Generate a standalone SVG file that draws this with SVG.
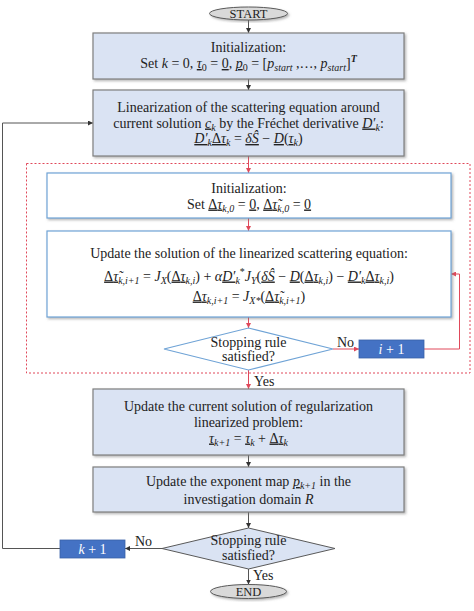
<svg xmlns="http://www.w3.org/2000/svg" width="474" height="611" viewBox="0 0 474 611">
<style>
.t{font-family:"Liberation Serif","Times New Roman",serif;font-size:14px;fill:#222;text-anchor:middle}
.i{font-style:italic}
.u{text-decoration:underline}
.s{font-size:10px;baseline-shift:-3px}
.p{font-size:10px;baseline-shift:6px}
.box{fill:#dae3f3;stroke:#7f7f7f;stroke-width:1.2}
.wbox{fill:#ffffff;stroke:#6fa3d6;stroke-width:1.2}
.blk{fill:#4472c4;stroke:#3a62a8;stroke-width:0.8}
.term{fill:#d9d9d9;stroke:#595959;stroke-width:1}
.cb{fill:none;stroke:#555;stroke-width:1}
.cr{fill:none;stroke:#e0485a;stroke-width:1}
.lbl{font-family:"Liberation Serif","Times New Roman",serif;font-size:14px;fill:#222}
.wt{font-family:"Liberation Serif","Times New Roman",serif;font-size:14px;fill:#fff;text-anchor:middle}
</style>
<defs>
<marker id="ab" viewBox="0 0 6 6" refX="6" refY="3" markerWidth="5" markerHeight="5" orient="auto" markerUnits="userSpaceOnUse"><path d="M0,0 L6,3 L0,6 z" fill="#333"/></marker>
<marker id="ar" viewBox="0 0 6 6" refX="6" refY="3" markerWidth="5" markerHeight="5" orient="auto" markerUnits="userSpaceOnUse"><path d="M0,0 L6,3 L0,6 z" fill="#e0485a"/></marker>
<filter id="sh" x="-5%" y="-10%" width="112%" height="130%"><feDropShadow dx="1.5" dy="1.5" stdDeviation="1" flood-color="#777" flood-opacity="0.55"/></filter>
</defs>
<rect width="474" height="611" fill="#fff"/>

<g id="loop-frame">
<rect x="26.5" y="163.5" width="443.5" height="209.5" fill="none" stroke="#e0485a" stroke-width="1" stroke-dasharray="2,2"/>
</g>

<g id="connectors">
<path class="cb" d="M248.5,20 V33" marker-end="url(#ab)"/>
<path class="cb" d="M248.5,79 V90" marker-end="url(#ab)"/>
<path class="cr" d="M248.5,156 V173" marker-end="url(#ar)"/>
<path class="cr" d="M248.5,218 V231" marker-end="url(#ar)"/>
<path class="cr" d="M248.5,317 V328" marker-end="url(#ar)"/>
<path class="cr" d="M333,349 H359" marker-end="url(#ar)"/>
<path class="cr" d="M424,349 H459.5 V274 H451" marker-end="url(#ar)"/>
<path class="cr" d="M248.5,370 V389" marker-end="url(#ar)"/>
<path class="cb" d="M248.5,455 V467" marker-end="url(#ab)"/>
<path class="cb" d="M248.5,512 V528" marker-end="url(#ab)"/>
<path class="cb" d="M162,548.5 H125" marker-end="url(#ab)"/>
<path class="cb" d="M60,548.5 H2.5 V123 H93" marker-end="url(#ab)"/>
<path class="cb" d="M248.5,569 V584.5" marker-end="url(#ab)"/>
<text class="lbl" x="337" y="347">No</text>
<text class="lbl" x="254" y="386">Yes</text>
<text class="lbl" x="135" y="546">No</text>
<text class="lbl" x="253" y="580">Yes</text>
</g>

<g id="start">
<ellipse class="term" cx="248.5" cy="13.5" rx="39" ry="6.5" filter="url(#sh)"/>
<text class="t" x="248.5" y="17.5" style="font-size:12.5px">START</text>
</g>

<g id="init">
<rect class="box" x="93" y="33" width="311" height="46" filter="url(#sh)"/>
<text class="t" x="248.5" y="52">Initialization:</text>
<text class="t" x="248.5" y="68">Set <tspan class="i">k</tspan> = 0, <tspan class="i u">τ</tspan><tspan class="s">0</tspan> = <tspan class="u">0</tspan>, <tspan class="i u">p</tspan><tspan class="s">0</tspan> = [<tspan class="i">p</tspan><tspan class="s i">start</tspan> ,…, <tspan class="i">p</tspan><tspan class="s i">start</tspan>]<tspan class="p i" style="font-weight:bold">T</tspan></text>
</g>

<g id="linearization">
<rect class="box" x="93" y="90" width="311" height="66" filter="url(#sh)"/>
<text class="t" x="248.5" y="112">Linearization of the scattering equation around</text>
<text class="t" x="248.5" y="127.5">current solution <tspan class="i u">c</tspan><tspan class="s i">k</tspan> by the Fréchet derivative <tspan class="i u">D′</tspan><tspan class="s i">k</tspan>:</text>
<text class="t" x="248.5" y="143"><tspan class="i u">D′</tspan><tspan class="s i">k</tspan><tspan class="u">Δ<tspan class="i">τ</tspan></tspan><tspan class="s i">k</tspan> = <tspan class="i u">δŜ</tspan> − <tspan class="i u">D</tspan>(<tspan class="i u">τ</tspan><tspan class="s i">k</tspan>)</text>
</g>

<g id="inner-init">
<rect class="wbox" x="47" y="173" width="404" height="45" filter="url(#sh)"/>
<text class="t" x="249" y="192.5">Initialization:</text>
<text class="t" x="249" y="208.5">Set <tspan class="u">Δ<tspan class="i">τ</tspan></tspan><tspan class="s i">k,0</tspan> = <tspan class="u">0</tspan>, <tspan class="u">Δ<tspan class="i">τ̃</tspan></tspan><tspan class="s i">k,0</tspan> = <tspan class="u">0</tspan></text>
</g>

<g id="update-linearized">
<rect class="wbox" x="47" y="231" width="404" height="86" filter="url(#sh)"/>
<text class="t" x="249" y="258">Update the solution of the linearized scattering equation:</text>
<text class="t" x="249" y="280.5"><tspan class="u">Δ<tspan class="i">τ̃</tspan></tspan><tspan class="s i">k,i+1</tspan> = <tspan class="i">J</tspan><tspan class="s i">X</tspan>(<tspan class="u">Δ<tspan class="i">τ</tspan></tspan><tspan class="s i">k,i</tspan>) + <tspan class="i">α</tspan><tspan class="i u">D′</tspan><tspan class="s i">k</tspan><tspan class="p">*</tspan><tspan class="i">J</tspan><tspan class="s i">Y</tspan>(<tspan class="i u">δŜ</tspan> − <tspan class="i u">D</tspan>(<tspan class="u">Δ<tspan class="i">τ</tspan></tspan><tspan class="s i">k,i</tspan>) − <tspan class="i u">D′</tspan><tspan class="s i">k</tspan><tspan class="u">Δ<tspan class="i">τ</tspan></tspan><tspan class="s i">k,i</tspan>)</text>
<text class="t" x="249" y="300.5"><tspan class="u">Δ<tspan class="i">τ</tspan></tspan><tspan class="s i">k,i+1</tspan> = <tspan class="i">J</tspan><tspan class="s i">X*</tspan>(<tspan class="u">Δ<tspan class="i">τ̃</tspan></tspan><tspan class="s i">k,i+1</tspan>)</text>
</g>

<g id="stop-inner">
<polygon points="164,349 248.5,328 333,349 248.5,370" fill="#fff" stroke="#6fa3d6" stroke-width="1.2"/>
<text class="t" x="248.5" y="346.5">Stopping rule</text>
<text class="t" x="248.5" y="360.5">satisfied?</text>
</g>

<g id="inc-i">
<rect class="blk" x="359" y="340" width="65" height="18"/>
<text class="wt" x="391.5" y="353.5"><tspan class="i">i</tspan> + 1</text>
</g>

<g id="update-current">
<rect class="box" x="93" y="389" width="311" height="66" filter="url(#sh)"/>
<text class="t" x="248.5" y="410.5">Update the current solution of regularization</text>
<text class="t" x="248.5" y="426.5">linearized problem:</text>
<text class="t" x="248.5" y="442.5"><tspan class="i u">τ</tspan><tspan class="s i">k+1</tspan> = <tspan class="i u">τ</tspan><tspan class="s i">k</tspan> + <tspan class="u">Δ<tspan class="i">τ</tspan></tspan><tspan class="s i">k</tspan></text>
</g>

<g id="update-exponent">
<rect class="box" x="93" y="467" width="311" height="45" filter="url(#sh)"/>
<text class="t" x="248.5" y="486">Update the exponent map <tspan class="i u">p</tspan><tspan class="s i">k+1</tspan> in the</text>
<text class="t" x="248.5" y="504">investigation domain <tspan class="i">R</tspan></text>
</g>

<g id="stop-outer">
<polygon points="162,548.5 248.5,528 335,548.5 248.5,569" fill="#dae3f3" stroke="#595959" stroke-width="1"/>
<text class="t" x="248.5" y="545">Stopping rule</text>
<text class="t" x="248.5" y="560">satisfied?</text>
</g>

<g id="inc-k">
<rect class="blk" x="60" y="540" width="65" height="18"/>
<text class="wt" x="92.5" y="553.5"><tspan class="i">k</tspan> + 1</text>
</g>

<g id="end">
<ellipse class="term" cx="248.5" cy="591.5" rx="38" ry="7" filter="url(#sh)"/>
<text class="t" x="248.5" y="596" style="font-size:12.5px">END</text>
</g>
</svg>
